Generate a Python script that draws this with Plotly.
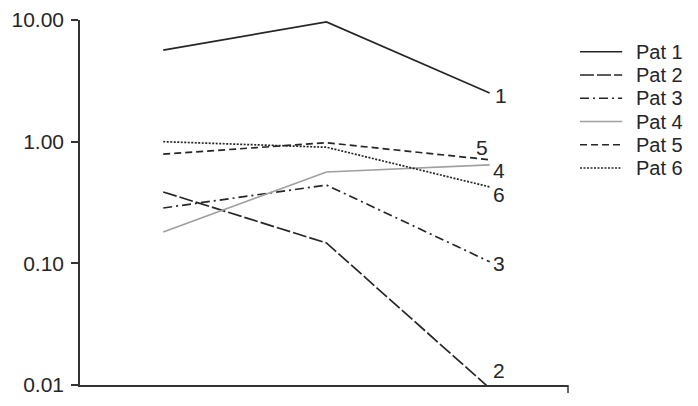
import math

import plotly.graph_objects as go

# Sampling points (three visits)
visits = [1, 2, 3]

patients = ["Pat 1", "Pat 2", "Pat 3", "Pat 4", "Pat 5", "Pat 6"]
pat1 = [5.66, 9.63, 2.51]
pat2 = [0.386, 0.147, 0.0094]
pat3 = [0.285, 0.44, 0.103]
pat4 = [0.181, 0.563, 0.645]
pat5 = [0.79, 0.98, 0.71]
pat6 = [1.0, 0.90, 0.425]

tick_vals = [0.01, 0.1, 1, 10]
tick_text = ["0.01", "0.10", "1.00", "10.00"]

series = [pat1, pat2, pat3, pat4, pat5, pat6]
INK = "#262626"
styles = [
    dict(color=INK, dash="solid"),
    dict(color=INK, dash="14px,3px"),
    dict(color=INK, dash="9px,4px,2px,4px"),
    dict(color="#a0a0a0", dash="solid"),
    dict(color=INK, dash="7px,4px"),
    dict(color=INK, dash="2px,1.5px"),
]
# end-label offsets (px) so the numbers sit like in the original
label_shift = [(3, -2), (1, 15), (1, -2), (1, -6), (-16, 12), (1, -8)]

fig = go.Figure()
for name, vals, st in zip(patients, series, styles):
    fig.add_trace(
        go.Scatter(
            x=visits,
            y=vals,
            mode="lines",
            name=name,
            showlegend=False,
            line=dict(color=st["color"], dash=st["dash"], width=1.7),
        )
    )

y_floor = math.log10(tick_vals[0])
for name, vals, (dx, dy) in zip(patients, series, label_shift):
    fig.add_annotation(
        x=visits[-1],
        # keep the anchor inside the axis range, otherwise plotly hides it
        y=max(math.log10(vals[-1]), y_floor),
        text=name.split()[-1],
        showarrow=False,
        xanchor="left",
        yanchor="middle",
        xshift=dx,
        yshift=dy,
        font=dict(size=21, color=INK),
    )

# hand-made legend (spacing of the original is tighter than plotly's)
leg_top, leg_step = 0.913, 0.0637
for i, (name, st) in enumerate(zip(patients, styles)):
    ly = leg_top - i * leg_step
    fig.add_shape(
        type="line", xref="paper", yref="paper",
        x0=1.0246, x1=1.111, y0=ly, y1=ly,
        line=dict(color=st["color"], dash=st["dash"], width=1.7),
    )
    fig.add_annotation(
        xref="paper", yref="paper", x=1.136, y=ly,
        text=name, showarrow=False, xanchor="left", yanchor="middle",
        font=dict(size=20, color=INK),
    )

# small tick at the right end of the x axis
fig.add_shape(
    type="line", xref="paper", yref="paper",
    x0=1, x1=1, y0=0, y1=-0.022,
    line=dict(color="#333333", width=1.5),
)

fig.update_layout(
    width=698,
    height=406,
    margin=dict(l=72, r=138, t=12, b=29),
    paper_bgcolor="white",
    plot_bgcolor="white",
    font=dict(family="Liberation Sans, Arial, sans-serif", color=INK),
    showlegend=False,
)
fig.update_xaxes(
    range=[0.49, 3.48],
    automargin=False,
    showgrid=False,
    zeroline=False,
    showticklabels=False,
    ticks="",
    showline=True,
    linecolor="#333333",
    linewidth=1.5,
)
fig.update_yaxes(
    type="log",
    range=[-2, 1],
    automargin=False,
    tickvals=tick_vals,
    ticktext=tick_text,
    ticks="outside",
    ticklen=7,
    tickwidth=1.5,
    tickcolor="#333333",
    ticklabelstandoff=3,
    showgrid=False,
    zeroline=False,
    showline=True,
    linecolor="#333333",
    linewidth=1.5,
    tickfont=dict(size=21, color=INK),
)

fig.write_html("out.html")
